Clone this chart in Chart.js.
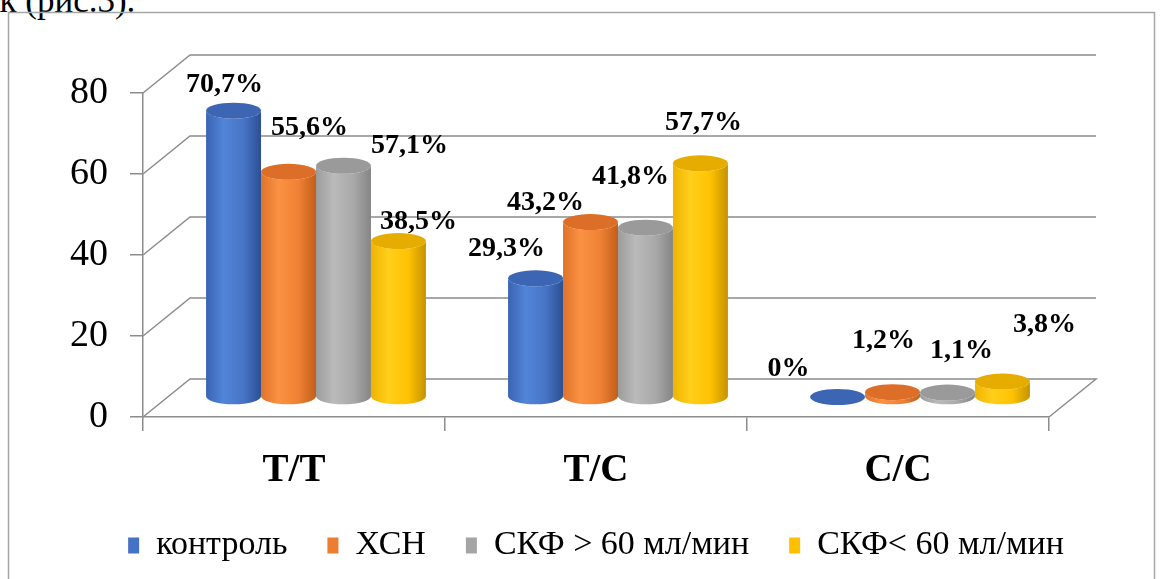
<!DOCTYPE html>
<html>
<head>
<meta charset="utf-8">
<script src="https://cdn.jsdelivr.net/npm/chart.js@4/dist/chart.umd.min.js"></script>
<style>
  html, body { margin: 0; padding: 0; background: #fff; overflow: hidden; }
  #wrap { position: relative; width: 1161px; height: 579px; }
  #lead { position: absolute; left: -18px; top: -17px; font: 35px 'Liberation Serif', 'Times New Roman', serif; line-height: 1; white-space: nowrap; color: #000; }
  canvas { position: absolute; left: 0; top: 0; }
</style>
</head>
<body>
<div id="wrap">
  <div id="lead">ок (рис.3).</div>
  <canvas id="c" width="1161" height="579"></canvas>
</div>
<script>
// Genotype frequencies (%) by group
const categories = ['T/T', 'T/C', 'C/C'];
const seriesNames = ['контроль', 'ХСН', 'СКФ > 60 мл/мин', 'СКФ< 60 мл/мин'];
const control    = [70.7, 29.3, 0];
const chf        = [55.6, 43.2, 1.2];
const gfrAbove60 = [57.1, 41.8, 1.1];
const gfrBelow60 = [38.5, 57.7, 3.8];
const yTicks = [0, 20, 40, 60, 80];

// Cylinder shading per series
const palettes = [
  { flat: '#4472C4', edgeL: '#3a64b2', light: '#5284d8', mid: '#4775c6', edgeR: '#2c4f92', top: '#3c66b4' },
  { flat: '#ED7D31', edgeL: '#e0722a', light: '#fa9243', mid: '#ef8135', edgeR: '#c25e1a', top: '#dc6e27' },
  { flat: '#A5A5A5', edgeL: '#9c9c9c', light: '#bababa', mid: '#a9a9a9', edgeR: '#858585', top: '#9a9a9a' },
  { flat: '#FFC000', edgeL: '#eeb400', light: '#ffcf1a', mid: '#ffc203', edgeR: '#c49300', top: '#e6ad00' }
];

// Nudges of the value labels relative to the top of each cylinder
const labelNudge = [
  [[-9, -26], [-29, -30], [-49, -28]],
  [[21, -44], [-45, -19], [-9, -51]],
  [[66, -20], [-15, -51], [14, -42]],
  [[20, -19], [3, -41], [42, -57]]
];

const depth = { dx: 47, dy: -38 };      // back wall offset from front plane
const barShift = { dx: 22, dy: -20 };   // cylinders stand mid-way in depth
const ellipseRy = 8;
const wallColor = '#8c8c8c';
const serif = '"Liberation Serif", "Times New Roman", serif';

function fmt(v) { return String(v).replace('.', ',') + '%'; }

function cylinder(ctx, cx, top, base, r, ry, p) {
  const g = ctx.createLinearGradient(cx - r, 0, cx + r, 0);
  g.addColorStop(0, p.edgeL);
  g.addColorStop(0.32, p.light);
  g.addColorStop(0.68, p.mid);
  g.addColorStop(1, p.edgeR);
  ctx.beginPath();
  ctx.moveTo(cx - r, top);
  ctx.lineTo(cx - r, base);
  ctx.ellipse(cx, base, r, ry, 0, Math.PI, 0, true);
  ctx.lineTo(cx + r, top);
  ctx.ellipse(cx, top, r, ry, 0, 0, Math.PI, false);
  ctx.closePath();
  ctx.fillStyle = g;
  ctx.fill();
  ctx.beginPath();
  ctx.ellipse(cx, top, r, ry, 0, 0, Math.PI * 2);
  ctx.fillStyle = p.top;
  ctx.fill();
}

const scene3d = {
  id: 'scene3d',
  beforeDatasetsDraw(chart) {
    const ctx = chart.ctx;
    const xs = chart.scales.x, ys = chart.scales.y;
    const L = xs.left, R = xs.right;
    ctx.save();
    ctx.strokeStyle = wallColor;
    ctx.lineWidth = 1.5;
    // side + back wall gridlines
    yTicks.forEach(v => {
      const y = ys.getPixelForValue(v);
      ctx.beginPath();
      ctx.moveTo(L, y);
      ctx.lineTo(L + depth.dx, y + depth.dy);
      ctx.lineTo(R + depth.dx, y + depth.dy);
      if (v === 0) ctx.lineTo(R, y);
      ctx.stroke();
    });
    // cylinders
    chart.data.datasets.forEach((ds, di) => {
      const meta = chart.getDatasetMeta(di);
      meta.data.forEach(el => {
        const p = el.getProps(['x', 'y', 'base', 'width'], true);
        cylinder(ctx, p.x + barShift.dx, p.y + barShift.dy, p.base + barShift.dy,
                 p.width / 2, ellipseRy, palettes[di]);
      });
    });
    ctx.restore();
    return false;
  },
  afterDraw(chart) {
    const ctx = chart.ctx;
    ctx.save();
    // value labels
    ctx.font = 'bold 28px ' + serif;
    ctx.fillStyle = '#000';
    ctx.textAlign = 'center';
    ctx.textBaseline = 'middle';
    chart.data.datasets.forEach((ds, di) => {
      const meta = chart.getDatasetMeta(di);
      meta.data.forEach((el, i) => {
        const p = el.getProps(['x', 'y'], true);
        const n = labelNudge[di][i];
        ctx.fillText(fmt(ds.data[i]), p.x + barShift.dx + n[0], p.y + barShift.dy + n[1]);
      });
    });
    // outer frame
    ctx.strokeStyle = '#a6a6a6';
    ctx.lineWidth = 1.5;
    ctx.strokeRect(8.5, 12.5, 1146, 620);
    ctx.restore();
  }
};

const seriesData = [control, chf, gfrAbove60, gfrBelow60];

new Chart(document.getElementById('c'), {
  type: 'bar',
  data: {
    labels: categories,
    datasets: seriesNames.map((name, i) => ({
      label: name,
      data: seriesData[i],
      backgroundColor: palettes[i].flat,
      borderWidth: 0,
      categoryPercentage: 0.728,
      barPercentage: 1
    }))
  },
  options: {
    responsive: false,
    animation: false,
    devicePixelRatio: 1,
    layout: { padding: { left: 31, top: 93, right: 0, bottom: 6.5 } },
    plugins: {
      legend: {
        position: 'bottom',
        labels: {
          font: { family: serif, size: 34 },
          color: '#000',
          boxWidth: 11,
          boxHeight: 16,
          padding: 40
        }
      },
      tooltip: { enabled: false }
    },
    scales: {
      x: {
        grid: { display: true, drawOnChartArea: false, tickLength: 14, color: wallColor, lineWidth: 1.5, offset: true },
        border: { display: true, color: wallColor, width: 1.5 },
        ticks: { font: { family: serif, size: 39, weight: 'bold' }, color: '#000', padding: 17 },
        afterFit(s) { s.height = 71.5; }
      },
      y: {
        min: 0,
        max: 80,
        afterBuildTicks(s) { s.ticks = yTicks.map(v => ({ value: v })); },
        ticks: { font: { family: serif, size: 38 }, color: '#000', padding: 22 },
        grid: { drawOnChartArea: false, tickLength: 13, color: wallColor, lineWidth: 1.5 },
        border: { display: true, color: wallColor, width: 1.5 },
        afterFit(s) { s.width = 112; }
      },
      // empty right-hand axis reserving the space beside the floor
      side: {
        type: 'linear',
        position: 'right',
        display: true,
        grid: { display: false },
        border: { display: false },
        ticks: { display: false },
        afterFit(s) { s.width = 112; }
      }
    }
  },
  plugins: [scene3d]
});
</script>
</body>
</html>
